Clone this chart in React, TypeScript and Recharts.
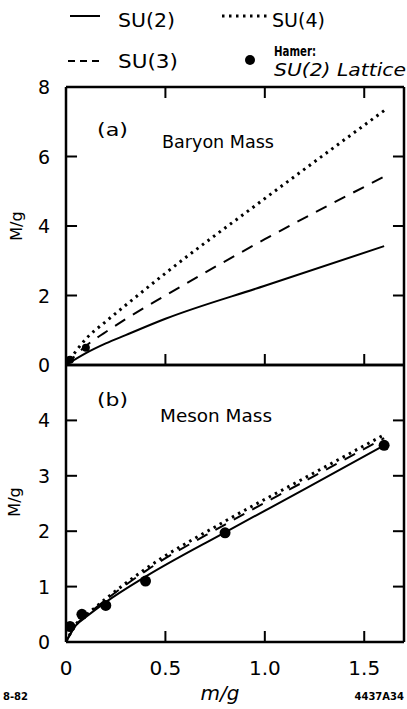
import React from 'react';
import { ComposedChart, Line, Scatter, XAxis, YAxis, ReferenceLine } from 'recharts';

// axis ticks
const X_TICKS = [0, 0.5, 1, 1.5];
const X_MAX = 1.7;
const BARYON_TICKS = [0, 2, 4, 6, 8];
const MESON_TICKS = [0, 1, 2, 3, 4];

// (a) baryon mass
const baryonM = [0, 0.1, 0.2, 0.3, 0.5, 1.0, 1.6];
const baryonSU2 = [0, 0.34, 0.62, 0.86, 1.33, 2.28, 3.42];
const baryonSU3 = [0, 0.55, 0.95, 1.32, 2.0, 3.62, 5.42];
const baryonSU4 = [0, 0.75, 1.25, 1.72, 2.64, 4.79, 7.32];
const baryonLatticeM = [0.02, 0.1];
const baryonLatticeV = [0.15, 0.5];

// (b) meson mass
const mesonM = [0, 0.05, 0.1, 0.2, 0.4, 0.8, 1.2, 1.6];
const mesonSU2 = [0, 0.3, 0.45, 0.72, 1.18, 1.98, 2.76, 3.55];
const mesonSU3 = [0, 0.31, 0.47, 0.76, 1.28, 2.12, 2.9, 3.68];
const mesonSU4 = [0, 0.32, 0.48, 0.78, 1.32, 2.18, 2.96, 3.74];
const mesonLatticeM = [0.02, 0.08, 0.2, 0.4, 0.8, 1.6];
const mesonLatticeV = [0.28, 0.5, 0.66, 1.1, 1.97, 3.55];

const pts = (xs: number[], ys: number[]) => xs.map((x, i) => ({ x, y: ys[i] }));

// inward tick marks on the frame, placed through the same scales as the data
// (anchored a hair inside the domain so they are not dropped at the edges)
const EPS = 1e-4;
const edgeTicks = (yTicks: number[], yMax: number, withTop: boolean) => {
  const innerX = X_TICKS.filter((v) => v > 0);
  const innerY = yTicks.filter((v) => v > 0 && v < yMax);
  return [
    ...innerX.map((x) => ({ x, y: yMax * EPS, edge: 'b' })),
    ...(withTop ? innerX.map((x) => ({ x, y: yMax * (1 - EPS), edge: 't' })) : []),
    ...innerY.map((y) => ({ x: X_MAX * EPS, y, edge: 'l' })),
    ...innerY.map((y) => ({ x: X_MAX * (1 - EPS), y, edge: 'r' })),
  ];
};

const FONT = '"DejaVu Sans", sans-serif';
const INK = '#000';
const TICK_PX = 11;
const fmtX = (v: number) => (v === 0 ? '0' : v.toFixed(1));

const BottomLabel = ({ x, y, payload }: any) => (
  <text x={x} y={y + 33} textAnchor="middle" fontSize={20} fontFamily={FONT} fill={INK}>
    {fmtX(payload.value)}
  </text>
);

const LeftLabel = ({ x, y, payload }: any) => (
  <text x={x - 22} y={y + 7} textAnchor="middle" fontSize={19} fontFamily={FONT} fill={INK}>
    {payload.value}
  </text>
);

const DIRS: Record<string, [number, number]> = { b: [0, -1], t: [0, 1], l: [1, 0], r: [-1, 0] };

// lattice point = filled circle, frame tick = short inward stroke
const Mark = ({ cx, cy, payload, r }: any) => {
  const dir = payload && DIRS[payload.edge];
  if (dir) {
    return (
      <path
        d={`M${cx},${cy}L${cx + dir[0] * TICK_PX},${cy + dir[1] * TICK_PX}`}
        stroke={INK}
        strokeWidth={2}
        fill="none"
      />
    );
  }
  return <circle cx={cx} cy={cy} r={r} fill={INK} />;
};

const edge = { stroke: INK, strokeWidth: 2.5 };

const Panel = ({ su2, su3, su4, marks, yMax, yTicks, dotR, height, top, bottomLabels }: any) => (
  <ComposedChart width={407} height={height} margin={{ top, right: 3, bottom: bottomLabels ? 0 : 15, left: 0 }}>
    <XAxis
      xAxisId="b"
      dataKey="x"
      type="number"
      domain={[0, X_MAX]}
      ticks={X_TICKS}
      interval={0}
      allowDataOverflow
      height={bottomLabels ? 67 : 0}
      tickSize={0}
      tickMargin={0}
      tickLine={false}
      axisLine={false}
      tick={bottomLabels ? (p: any) => <BottomLabel {...p} /> : false}
    />
    <YAxis
      yAxisId="l"
      type="number"
      domain={[0, yMax]}
      ticks={yTicks}
      interval={0}
      allowDataOverflow
      width={66}
      tickSize={0}
      tickMargin={0}
      tickLine={false}
      axisLine={false}
      tick={(p: any) => <LeftLabel {...p} />}
    />
    {/* frame */}
    <ReferenceLine xAxisId="b" yAxisId="l" x={0} {...edge} />
    <ReferenceLine xAxisId="b" yAxisId="l" x={X_MAX} {...edge} />
    <ReferenceLine xAxisId="b" yAxisId="l" y={0} {...edge} />
    <ReferenceLine xAxisId="b" yAxisId="l" y={yMax} {...edge} />
    <Line xAxisId="b" yAxisId="l" data={su2} dataKey="y" type="monotone" stroke={INK} strokeWidth={2} dot={false} isAnimationActive={false} />
    <Line xAxisId="b" yAxisId="l" data={su3} dataKey="y" type="monotone" stroke={INK} strokeWidth={2} strokeDasharray="12 9" dot={false} isAnimationActive={false} />
    <Line xAxisId="b" yAxisId="l" data={su4} dataKey="y" type="monotone" stroke={INK} strokeWidth={3} strokeDasharray="2.5 4.5" dot={false} isAnimationActive={false} />
    <Scatter xAxisId="b" yAxisId="l" data={marks} dataKey="y" fill={INK} shape={(p: any) => <Mark {...p} r={dotR} />} isAnimationActive={false} />
  </ComposedChart>
);

export default function App() {
  const baryonMarks = [...pts(baryonLatticeM, baryonLatticeV), ...edgeTicks(BARYON_TICKS, 8, true)];
  const mesonMarks = [...pts(mesonLatticeM, mesonLatticeV), ...edgeTicks(MESON_TICKS, 5, false)];
  return (
    <div style={{ position: 'absolute', left: 0, top: 0, width: 407, height: 709, background: '#fff', overflow: 'hidden' }}>
      <div style={{ position: 'absolute', left: 0, top: 0 }}>
        <Panel
          su2={pts(baryonM, baryonSU2)}
          su3={pts(baryonM, baryonSU3)}
          su4={pts(baryonM, baryonSU4)}
          marks={baryonMarks}
          yMax={8}
          yTicks={BARYON_TICKS}
          dotR={4}
          height={380}
          top={87}
          bottomLabels={false}
        />
      </div>
      <div style={{ position: 'absolute', left: 0, top: 345 }}>
        <Panel
          su2={pts(mesonM, mesonSU2)}
          su3={pts(mesonM, mesonSU3)}
          su4={pts(mesonM, mesonSU4)}
          marks={mesonMarks}
          yMax={5}
          yTicks={MESON_TICKS}
          dotR={5.5}
          height={364}
          top={20}
          bottomLabels
        />
      </div>
      <svg width={407} height={709} style={{ position: 'absolute', left: 0, top: 0, pointerEvents: 'none' }} fontFamily={FONT} fill={INK}>
        {/* legend */}
        <line x1={70} y1={16} x2={100} y2={16} stroke={INK} strokeWidth={2} />
        <text x={118} y={27} fontSize={19} textLength={57} lengthAdjust="spacingAndGlyphs">SU(2)</text>
        <line x1={222} y1={16} x2={268} y2={16} stroke={INK} strokeWidth={3} strokeDasharray="2.5 4.5" />
        <text x={272} y={27} fontSize={19} textLength={53} lengthAdjust="spacingAndGlyphs">SU(4)</text>
        <line x1={68} y1={61} x2={100} y2={61} stroke={INK} strokeWidth={2} strokeDasharray="7 5" />
        <text x={118} y={68} fontSize={19} textLength={60} lengthAdjust="spacingAndGlyphs">SU(3)</text>
        <circle cx={250} cy={60} r={5} fill={INK} />
        <text x={274} y={56} fontSize={14} fontWeight="bold" textLength={42} lengthAdjust="spacingAndGlyphs">Hamer:</text>
        <text x={274} y={76} fontSize={18} fontStyle="italic" textLength={132} lengthAdjust="spacingAndGlyphs">SU(2) Lattice</text>
        {/* panel captions */}
        <text x={97} y={136} fontSize={18} textLength={31} lengthAdjust="spacingAndGlyphs">(a)</text>
        <text x={162} y={148} fontSize={17} textLength={112} lengthAdjust="spacingAndGlyphs">Baryon Mass</text>
        <text x={97} y={406} fontSize={18} textLength={31} lengthAdjust="spacingAndGlyphs">(b)</text>
        <text x={160} y={422} fontSize={17} textLength={112} lengthAdjust="spacingAndGlyphs">Meson Mass</text>
        {/* axis titles */}
        <text x={16} y={226} fontSize={16} textAnchor="middle" dominantBaseline="central" transform="rotate(-90 16 226)">M/g</text>
        <text x={14} y={502} fontSize={16} textAnchor="middle" dominantBaseline="central" transform="rotate(-90 14 502)">M/g</text>
        <text x={220} y={700} fontSize={20} fontStyle="italic" textAnchor="middle">m/g</text>
        <text x={3} y={700} fontSize={10} fontWeight="bold">8-82</text>
        <text x={404} y={700} fontSize={10} fontWeight="bold" textAnchor="end">4437A34</text>
      </svg>
    </div>
  );
}
